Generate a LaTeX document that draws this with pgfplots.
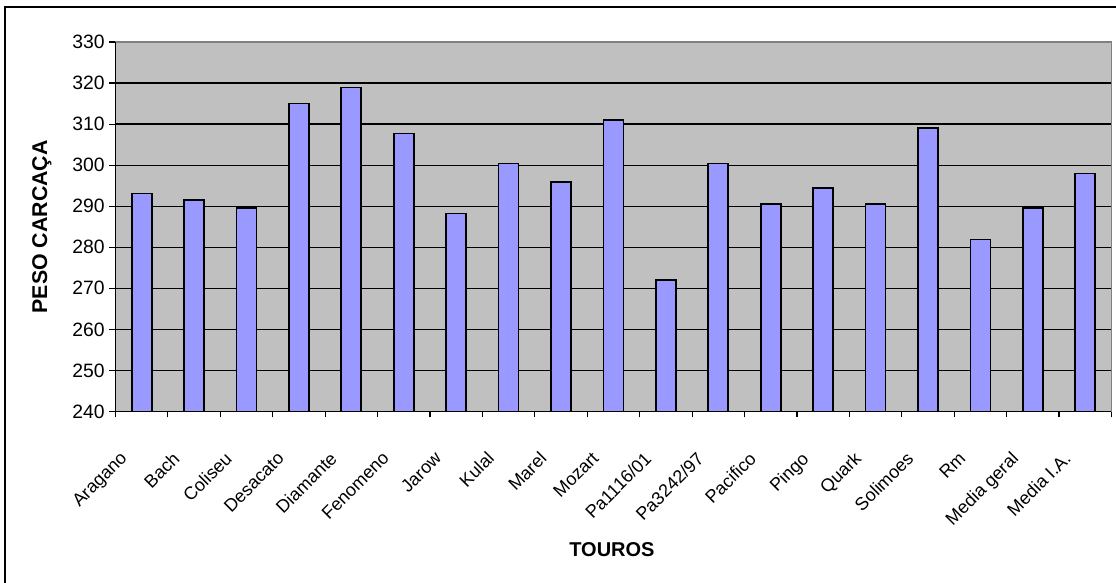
\documentclass[border=0pt]{standalone}
\usepackage{pgfplots}
\pgfplotsset{compat=1.18}
\usepackage{fontspec}
\setmainfont{Liberation Sans}
\definecolor{barblue}{HTML}{9999FF}
\definecolor{plotgray}{HTML}{C0C0C0}
\definecolor{edgegray}{HTML}{808080}

\pgfplotstableread{
x peso
0  293.1
1  291.6
2  289.6
3  315.0
4  318.9
5  307.7
6  288.2
7  300.4
8  295.9
9  311.0
10 272.0
11 300.4
12 290.6
13 294.5
14 290.6
15 309.1
16 281.9
17 289.6
18 298.0
}\pesotable

\begin{document}
\begin{tikzpicture}
% page size (1116x583 px at 0.75pt/px)
\path[use as bounding box] (-86.6pt,-128.6pt) rectangle (750.4pt,308.6pt);
\draw[line width=1.5pt] (-82.9pt,-140pt) -- (-82.9pt,303.4pt) -- (760pt,303.4pt);
\begin{axis}[%
scale only axis,
width=747pt,
height=277.1pt,
ymin=240, ymax=330,
ytick={240,250,...,330},
xmin=-0.5, xmax=18.5,
xtick={0,...,18},
xticklabels={Aragano,Bach,Coliseu,Desacato,Diamante,Fenomeno,Jarow,Kulal,Marel,Mozart,Pa1116/01,Pa3242/97,Pacifico,Pingo,Quark,Solimoes,Rm,Media geral,Media I.A.},
minor xtick={-0.5,0.5,...,18.5},
xtick pos=bottom,
ytick pos=left,
major x tick style={draw=none},
minor x tick style={black, line width=0.9pt},
ytick style={black, line width=0.9pt},
tick align=outside,
major tick length=4.5pt,
minor tick length=4.5pt,
ymajorgrids,
grid style={black, line width=1pt},
axis background/.style={fill=plotgray},
axis line style={edgegray, line width=1.2pt},
/pgf/number format/assume math mode=true,
yticklabel style={font=\fontsize{14.5}{16}\selectfont},
xticklabel style={font=\fontsize{13.5}{15}\selectfont, xshift=-17pt, yshift=-20pt, rotate=45, anchor=north east},
ylabel={PESO CARCAÇA},
ylabel style={font=\bfseries\fontsize{16}{18}\selectfont, at={(axis description cs:-0.0738,0.5)}, anchor=center},
xlabel={TOUROS},
xlabel style={font=\bfseries\fontsize{15}{18}\selectfont, at={(axis description cs:0.4985,-0.375)}, anchor=center},
ybar,
bar width=15pt,
]
\addplot[fill=barblue, draw=black, line width=1.3pt] table[x=x, y=peso] {\pesotable};
\end{axis}
\draw[black, line width=1.2pt] (0pt,277.1pt) -- (0pt,0pt) -- (747pt,0pt);
\end{tikzpicture}
\end{document}
